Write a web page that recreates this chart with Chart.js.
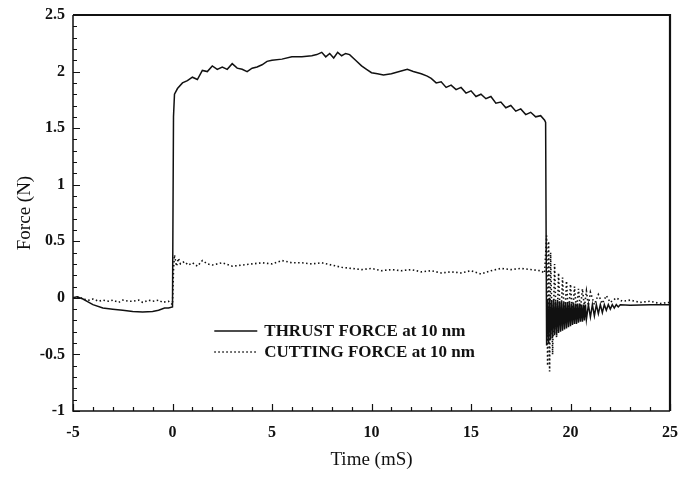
<!DOCTYPE html>
<html>
<head>
<meta charset="utf-8">
<script src="https://cdn.jsdelivr.net/npm/chart.js@4.4.1/dist/chart.umd.min.js"></script>
<style>
html,body{margin:0;padding:0;background:#fff;}
#wrap{width:679px;height:477px;position:relative;}
</style>
</head>
<body>
<div id="wrap"><canvas id="c"></canvas></div>
<script>
// ---- data ----
const thrustTime = [
  -5,-4.8,-4.5,-4.2,-4,-3.5,-3,-2.5,-2,-1.5,-1,-0.7,-0.4,-0.2,0,
  0.05,0.1,0.25,0.5,0.75,1,1.25,1.5,1.75,2,2.25,2.5,2.75,3,3.25,3.5,3.75,4,4.25,4.5,4.75,5,
  5.5,6,6.5,7,7.25,7.5,7.7,7.9,8.1,8.3,8.5,8.7,8.9,9.2,9.5,9.75,10,10.3,10.6,11,11.4,11.8,12.1,12.5,12.8,
  13,13.25,13.5,13.75,14,14.25,14.5,14.75,15,15.25,15.5,15.75,16,16.25,16.5,16.75,17,17.25,17.5,17.75,18,18.25,18.5,18.7,18.75,
  18.8,18.85,18.9,18.95,19.0,19.05,19.1,19.15,19.2,19.25,19.3,19.35,19.4,19.45,19.5,19.55,19.6,19.65,19.7,19.75,
  19.8,19.85,19.9,19.95,20.0,20.05,20.1,20.15,20.2,20.25,20.3,20.35,20.4,20.45,20.5,20.55,20.6,20.65,20.7,20.75,20.8,
  20.9,21.0,21.1,21.2,21.3,21.4,21.5,21.6,21.7,21.8,21.9,22.0,22.1,22.2,22.3,22.4,22.5,23,24,25
];
const thrustForce = [
  0.0,0.01,-0.01,-0.04,-0.06,-0.09,-0.10,-0.11,-0.12,-0.125,-0.12,-0.11,-0.09,-0.09,-0.08,
  1.60,1.80,1.85,1.90,1.92,1.95,1.93,2.01,2.00,2.05,2.02,2.04,2.02,2.07,2.03,2.02,2.00,2.03,2.04,2.06,2.09,2.10,
  2.11,2.13,2.13,2.14,2.15,2.17,2.13,2.16,2.12,2.17,2.14,2.16,2.15,2.10,2.05,2.02,1.99,1.98,1.97,1.98,2.00,2.02,2.00,1.98,1.96,
  1.94,1.90,1.91,1.86,1.88,1.84,1.86,1.81,1.83,1.78,1.80,1.76,1.78,1.72,1.73,1.68,1.70,1.65,1.67,1.62,1.64,1.60,1.61,1.57,1.55,
  -0.42,-0.01,-0.40,0.00,-0.37,-0.02,-0.35,-0.01,-0.33,-0.03,-0.32,-0.02,-0.31,-0.03,-0.30,-0.03,-0.29,-0.04,-0.28,-0.04,
  -0.27,-0.04,-0.26,-0.04,-0.25,-0.05,-0.24,-0.05,-0.23,-0.05,-0.23,-0.05,-0.22,-0.05,-0.21,-0.06,-0.21,-0.06,-0.20,-0.06,-0.19,
  -0.06,-0.17,-0.06,-0.16,-0.06,-0.14,-0.06,-0.13,-0.06,-0.11,-0.06,-0.10,-0.06,-0.09,-0.06,-0.08,-0.06,-0.065,-0.06,-0.06
];
const cuttingTime = [
  -5,-4.7,-4.5,-4.2,-4,-3.7,-3.5,-3.2,-3,-2.7,-2.5,-2.2,-2,-1.7,-1.5,-1.2,-1,-0.7,-0.5,-0.2,0,
  0.05,0.1,0.2,0.3,0.4,0.6,0.8,1,1.25,1.5,1.75,2,2.5,3,3.5,4,4.5,5,5.5,6,6.5,7,7.5,8,8.5,
  9,9.5,10,10.5,11,11.5,12,12.5,13,13.5,14,14.5,15,15.5,16,16.5,17,17.5,18,18.5,18.7,
  18.8,18.85,18.9,18.95,19.0,19.1,19.2,19.3,19.4,19.5,19.6,19.7,19.8,19.9,20.0,20.1,20.2,20.3,20.4,20.5,
  20.6,20.7,20.8,20.9,21.0,21.2,21.4,21.6,21.8,22.0,22.3,22.6,23,23.5,24,24.5,25
];
const cuttingForce = [
  0.00,0.01,-0.01,-0.02,-0.01,-0.03,-0.02,-0.03,-0.02,-0.04,-0.02,-0.03,-0.03,-0.02,-0.04,-0.02,-0.03,-0.02,-0.04,-0.03,-0.06,
  0.25,0.38,0.28,0.35,0.30,0.32,0.29,0.31,0.28,0.33,0.30,0.29,0.31,0.28,0.29,0.30,0.31,0.30,0.33,0.31,0.31,0.30,0.31,0.29,0.27,
  0.26,0.25,0.26,0.24,0.25,0.24,0.25,0.23,0.24,0.22,0.23,0.22,0.24,0.21,0.24,0.26,0.25,0.26,0.25,0.24,0.22,
  0.55,-0.60,0.50,-0.65,0.40,-0.50,0.30,-0.35,0.22,-0.25,0.18,-0.20,0.15,-0.18,0.12,-0.15,0.10,-0.12,0.08,-0.10,
  0.08,-0.08,0.06,-0.07,0.05,-0.06,0.03,-0.05,0.02,-0.04,0.00,-0.03,-0.02,-0.04,-0.03,-0.05,-0.04
];
const xTickValues = [-5,0,5,10,15,20,25];
const yTickValues = [-1,-0.5,0,0.5,1,1.5,2,2.5];
const seriesLabels = ['THRUST FORCE at 10 nm','CUTTING FORCE at 10 nm'];
const xTitle = 'Time (mS)';
const yTitle = 'Force (N)';

// ---- build ----
const toPts = (ts, fs) => ts.map((t, i) => ({x: t, y: fs[i]}));
const serif = "'Liberation Serif','Times New Roman',serif";
const INK = '#111';

const framePlugin = {
  id: 'frame',
  afterDraw(chart) {
    const {ctx, chartArea: a, scales: {x, y}} = chart;
    ctx.save();
    ctx.strokeStyle = INK;
    // inward ticks
    ctx.lineWidth = 1.2;
    ctx.beginPath();
    for (let v = x.min; v <= x.max + 1e-9; v += 1) {
      const px = Math.round(x.getPixelForValue(v)) + 0.5;
      const major = Math.abs(v % 5) < 1e-6;
      ctx.moveTo(px, a.bottom);
      ctx.lineTo(px, a.bottom - (major ? 7 : 4));
    }
    for (let k = 0; k <= 35; k++) {
      const v = y.min + k * 0.1;
      const py = Math.round(y.getPixelForValue(v)) + 0.5;
      const major = k % 5 === 0;
      ctx.moveTo(a.left, py);
      ctx.lineTo(a.left + (major ? 7 : 4), py);
    }
    ctx.stroke();
    // frame
    ctx.lineWidth = 1.5;
    ctx.beginPath();
    ctx.moveTo(a.left, a.top);
    ctx.lineTo(a.left, a.bottom);
    ctx.lineTo(a.right, a.bottom);
    ctx.stroke();
    ctx.lineWidth = 2.2;
    ctx.beginPath();
    ctx.moveTo(a.left, a.top);
    ctx.lineTo(a.right, a.top);
    ctx.lineTo(a.right, a.bottom);
    ctx.stroke();
    // legend
    const ds = chart.data.datasets;
    const lx = x.getPixelForValue(2.1), lw = 43;
    const rows = [331, 352];
    ctx.font = 'bold 17px ' + serif;
    ctx.fillStyle = INK;
    ctx.textBaseline = 'middle';
    ds.forEach((d, i) => {
      ctx.save();
      ctx.lineWidth = d.borderWidth;
      ctx.setLineDash(d.borderDash || []);
      ctx.beginPath();
      ctx.moveTo(lx, rows[i]);
      ctx.lineTo(lx + lw, rows[i]);
      ctx.stroke();
      ctx.restore();
      ctx.fillText(d.label, lx + lw + 7, rows[i] + 1);
    });
    ctx.restore();
  }
};

new Chart(document.getElementById('c'), {
  type: 'scatter',
  data: {
    datasets: [
      {label: seriesLabels[0], data: toPts(thrustTime, thrustForce), showLine: true,
       borderColor: INK, borderWidth: 1.5, pointRadius: 0, tension: 0},
      {label: seriesLabels[1], data: toPts(cuttingTime, cuttingForce), showLine: true,
       borderColor: INK, borderWidth: 1.6, borderDash: [1.5, 2.5], pointRadius: 0, tension: 0}
    ]
  },
  options: {
    responsive: true,
    maintainAspectRatio: false,
    animation: false,
    layout: {padding: {top: 15, right: 9, left: 0, bottom: 0}},
    plugins: {legend: {display: false}, tooltip: {enabled: false}},
    scales: {
      x: {
        type: 'linear', min: -5, max: 25,
        afterBuildTicks: s => { s.ticks = xTickValues.map(v => ({value: v})); },
        afterFit: s => { s.height = 66; s.paddingLeft = 0; s.paddingRight = 0; },
        grid: {display: false, drawTicks: false},
        border: {display: false},
        ticks: {color: INK, padding: 12, maxRotation: 0, autoSkip: false,
                callback: v => String(v),
                font: {family: serif, size: 16, weight: 'bold'}},
        title: {display: true, text: xTitle, color: INK, padding: {top: 0, bottom: 6},
                font: {family: serif, size: 19}}
      },
      y: {
        type: 'linear', min: -1, max: 2.5,
        afterBuildTicks: s => { s.ticks = yTickValues.map(v => ({value: v})); },
        afterFit: s => { s.width = 73; s.paddingTop = 0; s.paddingBottom = 0; },
        grid: {display: false, drawTicks: false},
        border: {display: false},
        ticks: {color: INK, padding: 8, autoSkip: false,
                callback: v => String(v),
                font: {family: serif, size: 16, weight: 'bold'}},
        title: {display: true, text: yTitle, color: INK, padding: {top: 14, bottom: 0},
                font: {family: serif, size: 19}}
      }
    }
  },
  plugins: [framePlugin]
});
</script>
</body>
</html>
